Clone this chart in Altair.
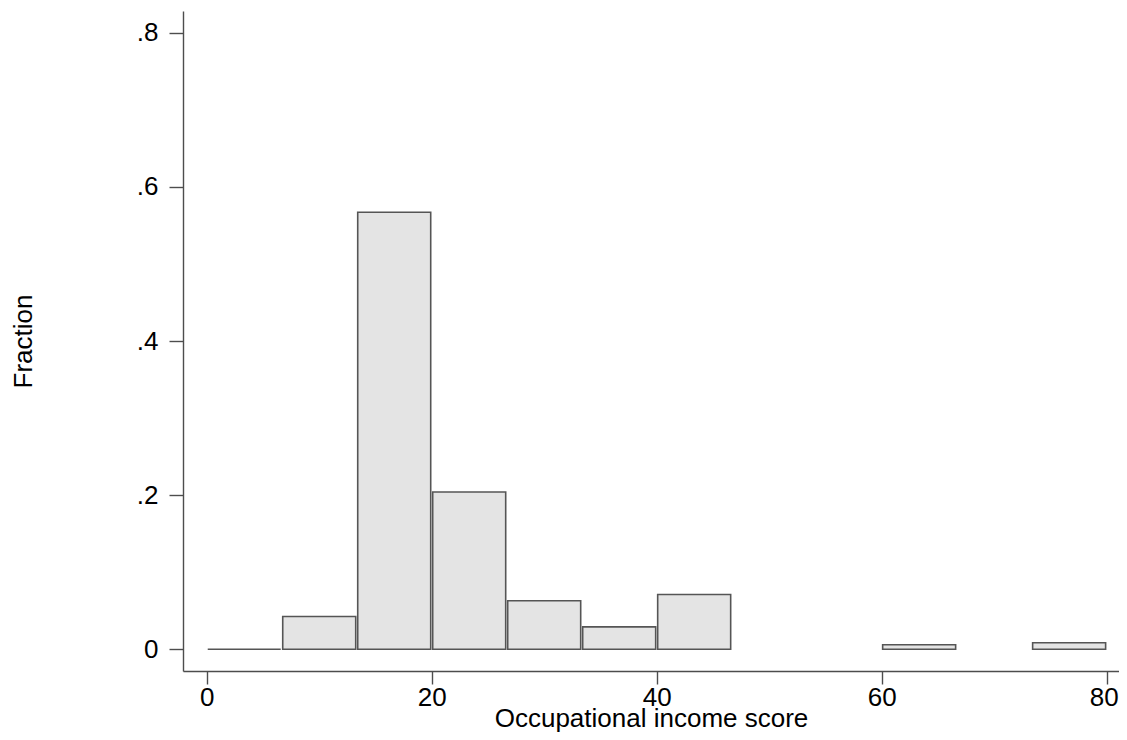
import altair as alt
import pandas as pd

bin_start = [0, 20/3, 40/3, 20, 80/3, 100/3, 40, 60, 220/3]
bin_end = [20/3, 40/3, 20, 80/3, 100/3, 40, 140/3, 200/3, 80]
fraction = [0.0, 0.0425, 0.567, 0.204, 0.063, 0.029, 0.071, 0.0058, 0.0085]

df = pd.DataFrame({"start": bin_start, "end": bin_end, "fraction": fraction, "base": [0.0] * len(fraction)})

FONT = "Liberation Sans"
AX = "#4d4d4d"

bars = alt.Chart(df).mark_rect(
    fill="#e4e4e4", stroke="#555555", strokeWidth=1.6, xOffset=1, x2Offset=-1
).encode(
    x=alt.X("start:Q",
            scale=alt.Scale(domain=[-2.11, 81.1], nice=False, zero=False),
            axis=alt.Axis(values=[0, 20, 40, 60, 80], title="Occupational income score",
                          grid=False, domainColor=AX, domainWidth=1.4, tickColor=AX,
                          tickWidth=1.4, tickSize=13, labelFont=FONT, labelFontSize=26,
                          labelColor="black", labelPadding=0,
                          labelOffset={"condition": {"test": "datum.value == 80", "value": -3}, "value": 0},
                          titleFont=FONT,
                          titleFontSize=26, titleFontWeight="normal", titleColor="black",
                          titleBaseline="alphabetic", titleY=55, labelFlush=False)),
    x2="end:Q",
    y=alt.Y("fraction:Q",
            scale=alt.Scale(domain=[-0.0282, 0.8282], nice=False, zero=False),
            axis=alt.Axis(values=[0, 0.2, 0.4, 0.6, 0.8], title="Fraction",
                          labelExpr="datum.value == 0 ? '0' : replace(format(datum.value, '.1f'), '0.', '.')",
                          grid=False, domainColor=AX, domainWidth=1.4, tickColor=AX,
                          tickWidth=1.4, tickSize=14, labelFont=FONT, labelFontSize=26,
                          labelColor="black", labelPadding=11, titleFont=FONT,
                          titleFontSize=26, titleFontWeight="normal", titleColor="black",
                          titlePadding=100, labelFlush=False)),
    y2="base:Q",
)

chart = bars.properties(
    width=936, height=660,
    padding={"left": 175, "top": 3, "right": 0, "bottom": 61},
    autosize=alt.AutoSizeParams(type="none"),
).configure(background="white").configure_view(stroke=None, strokeWidth=0)

chart.save("out.html", embed_options={"renderer": "svg", "actions": False})
